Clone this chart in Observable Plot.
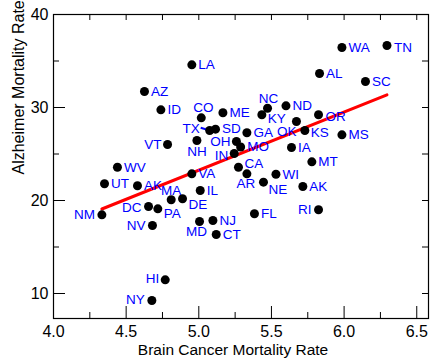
<!DOCTYPE html>
<html><head><meta charset="utf-8">
<script src="https://cdn.jsdelivr.net/npm/d3@7"></script>
<script src="https://cdn.jsdelivr.net/npm/@observablehq/plot@0.6"></script>
<style>body{margin:0;background:#fff;}</style>
</head><body><div id="chart"></div>
<script>
// ---- data ----
const states = ["LA","AZ","ID","CO","VT","NH","WV","VA","TX","SD","ME","NC","KY","ND","OK","KS","OR","AL","WA","TN","SC","MS","GA","IA","MT","OH","MO","IN","CA","AR","WI","NE","AK","RI","FL","NJ","CT","MD","IL","DE","MA","PA","DC","NV","AK","UT","NM","HI","NY"];
const brainCancerRate = [4.952,4.626,4.739,5.017,4.785,4.987,4.44,4.952,5.075,5.115,5.166,5.473,5.434,5.60,5.672,5.73,5.824,5.831,5.985,6.295,6.147,5.985,5.331,5.638,5.778,5.259,5.288,5.244,5.273,5.331,5.531,5.445,5.716,5.824,5.383,5.097,5.120,5.005,5.010,4.888,4.810,4.718,4.654,4.681,4.578,4.351,4.333,4.769,4.677];
const alzheimerRate = [34.59,31.72,29.75,28.89,26.02,26.45,23.58,22.87,27.53,27.67,29.43,29.92,29.22,30.18,28.49,27.53,29.22,33.66,36.45,36.67,32.80,27.06,27.28,25.70,24.16,26.34,25.75,25.05,23.58,22.87,22.82,21.97,21.50,19.00,18.57,17.85,16.34,17.74,21.08,20.19,20.08,19.10,19.35,17.31,21.58,21.80,18.46,11.47,9.25];
const xMajorTicks = [4.0, 4.5, 5.0, 5.5, 6.0, 6.5];
const xMinorTicks = [4.25, 4.75, 5.25, 5.75, 6.25];
const yMajorTicks = [10, 20, 30, 40];
const yMinorTicks = [15, 25, 35];
const xTitle = "Brain Cancer Mortality Rate";
const yTitle = "Alzheimer Mortality Rate";

// ---- build table ----
const points = states.map((s, i) => ({state: s, x: brainCancerRate[i], y: alzheimerRate[i]}));

// label placement (style only): [textAnchor, dx, dy]
const place = {
  NM:["end",-7,0], TX:["end",-10,-2], VT:["end",-6,0], DC:["end",-7,1], NV:["end",-7,0],
  HI:["end",-6,-1], NY:["end",-7,-1], RI:["end",-7,0], OH:["end",-6,0], IN:["end",-6,2],
  OK:["end",0,10], CO:["middle",2,-10], NC:["middle",1,-9.5], NH:["middle",0,11],
  MA:["middle",0,-9], AR:["middle",-1,10], MD:["middle",-3,10],
  KY:["start",6,4], NE:["start",5,7], DE:["start",6,6], PA:["start",6,4.5], CA:["start",6,-4],
  TN:["start",7,2], KS:["start",6,2], OR:["start",7,1.5]
};
const pl = s => place[s] || ["start", 6.5, 0];
const labels = points.map(d => {
  const [a, dx, dy] = pl(d.state);
  return Plot.text([d], {x: "x", y: "y", text: "state", textAnchor: a, dx, dy, fill: "#0000ff", fontSize: 13.5});
});

const W = 436, H = 363, mL = 53, mR = 8, mT = 14, mB = 45;
const fw = W - mL - mR, fh = H - mT - mB;
const font = "'Liberation Sans', Arial, Helvetica, sans-serif";

const chart = Plot.plot({
  width: W, height: H,
  marginLeft: mL, marginRight: mR, marginTop: mT, marginBottom: mB,
  style: {fontFamily: font, fontSize: "16px", background: "#fff", color: "#000"},
  x: {domain: [4, 4 + fw / 145.3]},
  y: {domain: [40 - fh / 9.3, 40]},
  marks: [
    Plot.frame({stroke: "#000", strokeWidth: 1.2}),
    // bottom ticks (inward)
    Plot.tickX(xMajorTicks, {x: d => d, insetTop: fh - 12, stroke: "#000"}),
    Plot.tickX(xMinorTicks, {x: d => d, insetTop: fh - 6, stroke: "#000"}),
    // top ticks
    Plot.tickX(xMajorTicks.concat(xMinorTicks), {x: d => d, insetBottom: fh - 6, stroke: "#000"}),
    // left ticks
    Plot.tickY(yMajorTicks, {y: d => d, insetRight: fw - 12, stroke: "#000"}),
    Plot.tickY(yMinorTicks, {y: d => d, insetRight: fw - 6, stroke: "#000"}),
    // right ticks
    Plot.tickY(yMajorTicks.concat(yMinorTicks), {y: d => d, insetLeft: fw - 6, stroke: "#000"}),
    Plot.axisX({ticks: xMajorTicks, tickSize: 0, tickPadding: 7, tickFormat: d3.format(".1f"), label: null, fontSize: 16}),
    Plot.axisY({ticks: yMajorTicks, tickSize: 0, tickPadding: 5, label: null, fontSize: 16}),
    Plot.text([xTitle], {frameAnchor: "bottom", dy: 36, dx: -8, fontSize: 15.5, fill: "#000"}),
    Plot.text([yTitle], {frameAnchor: "left", rotate: -90, dx: -35, dy: 8, fontSize: 16, fill: "#000"}),
    Plot.linearRegressionY(points, {x: "x", y: "y", stroke: "#ff0000", strokeWidth: 3, ci: 0}),
    Plot.link(points.filter(d => d.state === "TX"), {x1: "x", y1: "y", x2: d => d.x - 0.062, y2: d => d.y + 0.3, stroke: "#0000ff", strokeWidth: 2}),
    Plot.dot(points, {x: "x", y: "y", r: 4.5, fill: "#000"}),
    ...labels
  ]
});
document.getElementById("chart").append(chart);
</script>
</body></html>
